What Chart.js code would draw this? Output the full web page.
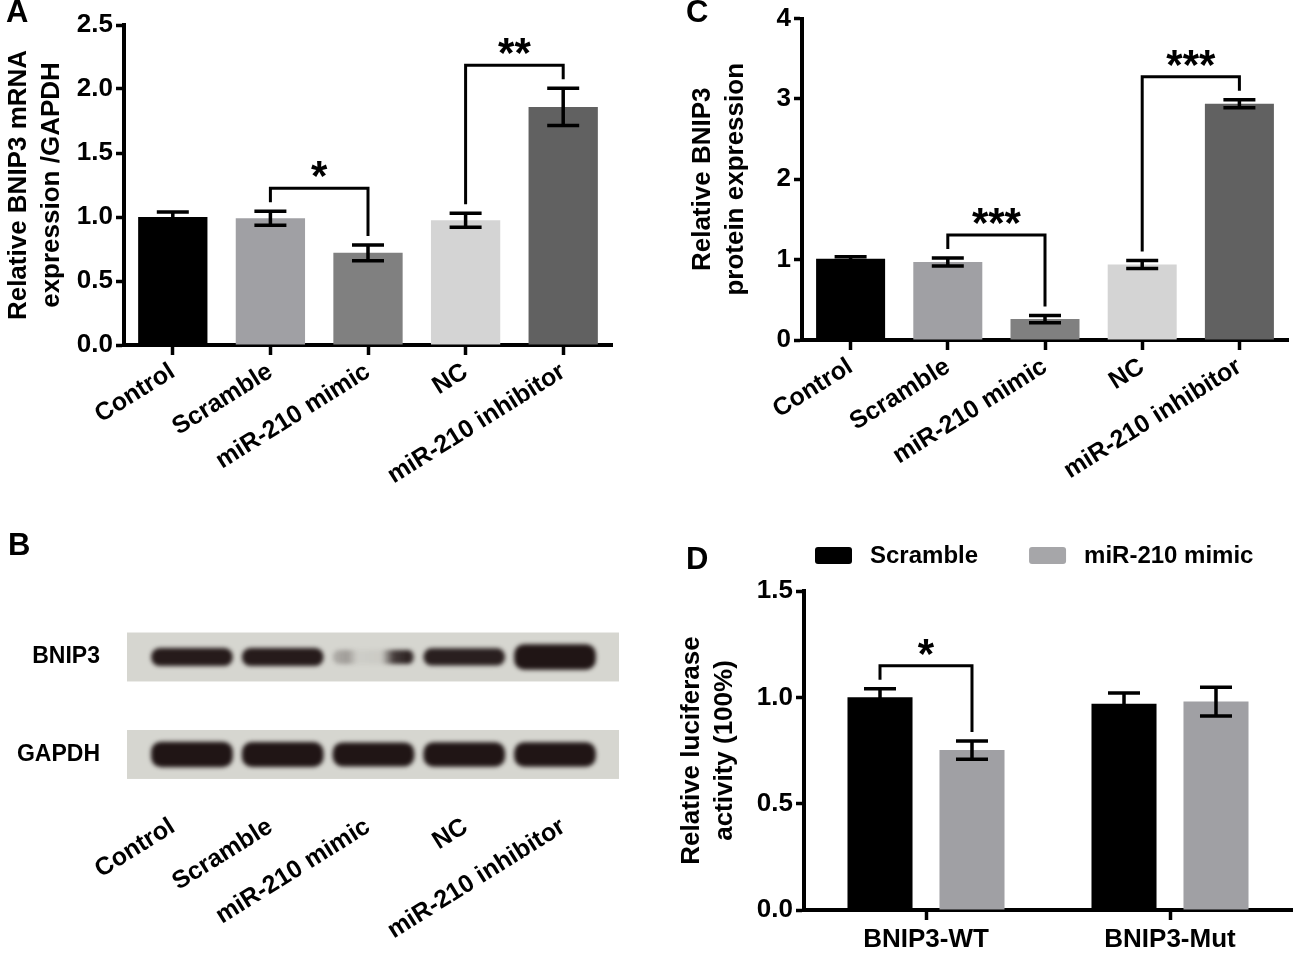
<!DOCTYPE html>
<html>
<head>
<meta charset="utf-8">
<script src="https://cdn.jsdelivr.net/npm/chart.js@4.4.1/dist/chart.umd.min.js"></script>
<style>
  html, body { margin: 0; padding: 0; background: #fff; }
  #fig { position: relative; width: 1300px; height: 957px; overflow: hidden; background: #fff;
         font-family: 'Liberation Sans', Arial, sans-serif; }
  #fig canvas { position: absolute; }
  .tag { position: absolute; font-weight: bold; font-size: 31px; line-height: 31px; color: #000; }
</style>
</head>
<body>
<div id="fig">
  <canvas id="chartA" width="650" height="500" style="left:0;top:0"></canvas>
  <canvas id="chartC" width="640" height="500" style="left:660px;top:0"></canvas>
  <canvas id="chartB" width="650" height="437" style="left:0;top:520px"></canvas>
  <canvas id="chartD" width="640" height="437" style="left:660px;top:520px"></canvas>
  <div class="tag" style="left:6px;top:-4px">A</div>
  <div class="tag" style="left:686px;top:-4px">C</div>
  <div class="tag" style="left:8px;top:529px">B</div>
  <div class="tag" style="left:686px;top:543px">D</div>
</div>
<script>
// groups shared by A, B, C
const groups = ['Control', 'Scramble', 'miR-210 mimic', 'NC', 'miR-210 inhibitor'];

// A: BNIP3 mRNA / GAPDH
const mrnaMean = [1.00, 0.99, 0.72, 0.975, 1.86];
const mrnaErr = [0.04, 0.055, 0.062, 0.055, 0.145];
const mrnaTicks = [0, 0.5, 1.0, 1.5, 2.0, 2.5];
const mrnaSig = [{ a: [0, 1], b: [0, 2], mark: '*' }, { a: [0, 3], b: [0, 4], mark: '**' }];

// C: BNIP3 protein
const proteinMean = [1.01, 0.97, 0.26, 0.94, 2.94];
const proteinErr = [0.025, 0.05, 0.045, 0.05, 0.05];
const proteinTicks = [0, 1, 2, 3, 4];
const proteinSig = [{ a: [0, 1], b: [0, 2], mark: '***' }, { a: [0, 3], b: [0, 4], mark: '***' }];

// B: western blot, band half-thickness (row units) and density per lane
const blotRows = ['GAPDH', 'BNIP3'];
const bnip3Band = [0.088, 0.088, 0.068, 0.085, 0.128];
const bnip3Density = [0.97, 0.97, 0.3, 0.95, 1.0];
const gapdhBand = [0.128, 0.125, 0.12, 0.122, 0.122];
const gapdhDensity = [1.0, 1.0, 1.0, 1.0, 1.0];

// D: luciferase
const lucGroups = ['BNIP3-WT', 'BNIP3-Mut'];
const lucScramble = [1.00, 0.97];
const lucScrambleErr = [0.04, 0.05];
const lucMimic = [0.752, 0.98];
const lucMimicErr = [0.043, 0.068];
const lucTicks = [0, 0.5, 1.0, 1.5];
const lucSig = [{ a: [0, 0], b: [1, 0], mark: '*' }];

const groupColors = ['#000000', '#a0a0a4', '#808080', '#d4d4d4', '#616161'];
const FONT = "'Liberation Sans', Arial, sans-serif";
const BAND = '32,21,21';

Chart.defaults.font.family = FONT;
Chart.defaults.font.size = 26;
Chart.defaults.font.weight = 'bold';
Chart.defaults.color = '#000';
Chart.defaults.animation = false;
Chart.defaults.plugins.legend.display = false;
Chart.defaults.plugins.tooltip.enabled = false;

const errorBars = {
  id: 'errorBars',
  afterDatasetsDraw(chart) {
    const { ctx } = chart;
    const y = chart.scales.y;
    chart.data.datasets.forEach((ds, d) => {
      if (!ds.errors) return;
      chart.getDatasetMeta(d).data.forEach((bar, i) => {
        const top = y.getPixelForValue(ds.data[i] + ds.errors[i]);
        const bot = y.getPixelForValue(ds.data[i] - ds.errors[i]);
        ctx.save();
        ctx.strokeStyle = '#000';
        ctx.lineWidth = 3.5;
        ctx.beginPath();
        ctx.moveTo(bar.x, top); ctx.lineTo(bar.x, bot);
        ctx.moveTo(bar.x - 16, top); ctx.lineTo(bar.x + 16, top);
        ctx.moveTo(bar.x - 16, bot); ctx.lineTo(bar.x + 16, bot);
        ctx.stroke();
        ctx.restore();
      });
    });
  }
};

const sigBrackets = {
  id: 'sigBrackets',
  afterDatasetsDraw(chart, args, opts) {
    const { ctx } = chart;
    const y = chart.scales.y;
    const tip = ([d, i]) => {
      const ds = chart.data.datasets[d];
      const el = chart.getDatasetMeta(d).data[i];
      return { x: el.x, y: y.getPixelForValue(ds.data[i] + ds.errors[i]) };
    };
    (opts.items || []).forEach(it => {
      const a = tip(it.a), b = tip(it.b);
      const ya = a.y - 9, yb = b.y - 9;
      const top = Math.min(ya, yb) - 14;
      ctx.save();
      ctx.strokeStyle = '#000';
      ctx.lineWidth = 3;
      ctx.beginPath();
      ctx.moveTo(a.x, ya); ctx.lineTo(a.x, top); ctx.lineTo(b.x, top); ctx.lineTo(b.x, yb);
      ctx.stroke();
      ctx.fillStyle = '#000';
      ctx.font = 'bold 42px ' + FONT;
      ctx.textAlign = 'center';
      ctx.textBaseline = 'alphabetic';
      ctx.fillText(it.mark, (a.x + b.x) / 2, top - 21 + 0.55 * 42);
      ctx.restore();
    });
  }
};

const boxLegend = {
  id: 'boxLegend',
  afterDraw(chart, args, opts) {
    if (!opts.show) return;
    const { ctx } = chart;
    let x = opts.x;
    ctx.save();
    ctx.font = 'bold 24px ' + FONT;
    ctx.textBaseline = 'middle';
    chart.data.datasets.forEach(ds => {
      ctx.fillStyle = ds.legendColor || ds.backgroundColor;
      ctx.beginPath();
      ctx.roundRect(x, opts.y - 8, 37, 17, 3);
      ctx.fill();
      x += 37 + 18;
      ctx.fillStyle = '#000';
      ctx.fillText(ds.label, x, opts.y + 1);
      x += ctx.measureText(ds.label).width + 51;
    });
    ctx.restore();
  }
};

const blotStrips = {
  id: 'blotStrips',
  beforeDatasetsDraw(chart, args, opts) {
    if (!opts.show) return;
    const { ctx } = chart;
    const lane = chart.scales.lane, y = chart.scales.y;
    const x0 = lane.getPixelForValue(opts.from), x1 = lane.getPixelForValue(opts.to);
    ctx.save();
    ctx.fillStyle = '#d6d6d0';
    blotRows.forEach((_, r) => {
      const t = y.getPixelForValue(r + opts.half), b = y.getPixelForValue(r - opts.half);
      ctx.fillRect(x0, t, x1 - x0, b - t);
    });
    ctx.restore();
    ctx.save();
    ctx.filter = 'blur(2px)';
  },
  afterDatasetsDraw(chart, args, opts) {
    if (opts.show) chart.ctx.restore();
  }
};

Chart.register(errorBars, sigBrackets, boxLegend, blotStrips);

function valueAxis(ticksArr, decimals, title, titlePad, width) {
  return {
    min: ticksArr[0],
    max: ticksArr[ticksArr.length - 1],
    afterBuildTicks: s => { s.ticks = ticksArr.map(v => ({ value: v })); },
    afterFit: s => { s.width = width; },
    ticks: { padding: 3, callback: v => Number(v).toFixed(decimals) },
    grid: { display: true, drawOnChartArea: false, drawTicks: true, tickLength: 8, tickWidth: 3.5, tickColor: '#000' },
    border: { display: true, color: '#000', width: 4 },
    title: { display: true, text: title, padding: { top: titlePad, bottom: 0 }, font: { size: 26, lineHeight: 1.27 } }
  };
}

function groupAxis(height, rotated, visibleLine) {
  return {
    afterFit: s => { s.height = height; },
    ticks: rotated
      ? { minRotation: 32, maxRotation: 32, padding: 2, labelOffset: 0, autoSkip: false, font: { size: 25 } }
      : { maxRotation: 0, padding: 4, autoSkip: false },
    grid: { display: true, offset: false, drawOnChartArea: false, drawTicks: true, tickLength: 10,
            tickWidth: 3.5, tickColor: visibleLine ? '#000' : 'rgba(0,0,0,0)' },
    border: { display: visibleLine, color: '#000', width: 4 }
  };
}

function barPanel(id, w, h, area, means, errs, ticksArr, decimals, title, titlePad, sig) {
  return new Chart(document.getElementById(id), {
    type: 'bar',
    data: {
      labels: groups,
      datasets: [{ data: means, errors: errs, backgroundColor: groupColors, borderWidth: 0,
                   categoryPercentage: 1.0, barPercentage: 0.71 }]
    },
    options: {
      responsive: false,
      devicePixelRatio: 1,
      layout: { autoPadding: false, padding: { left: 0, top: area.t, right: w - area.r, bottom: 0 } },
      scales: {
        x: groupAxis(h - area.b, true, true),
        y: valueAxis(ticksArr, decimals, title, titlePad, area.l)
      },
      plugins: { sigBrackets: { items: sig } }
    }
  });
}

barPanel('chartA', 650, 500, { l: 124, t: 25, r: 612, b: 345 }, mrnaMean, mrnaErr, mrnaTicks, 1,
  ['Relative BNIP3 mRNA', 'expression /GAPDH'], 2.5, mrnaSig);

barPanel('chartC', 640, 500, { l: 142, t: 17, r: 628, b: 340 }, proteinMean, proteinErr, proteinTicks, 0,
  ['Relative BNIP3', 'protein expression'], 26.5, proteinSig);

// B: blot bands as floating bars, lanes on a hidden linear axis
const blotBands = [];
groups.forEach((g, i) => {
  blotBands.push({ x: i, y: [1 - bnip3Band[i], 1 + bnip3Band[i]], row: 1, lane: i });
  blotBands.push({ x: i, y: [-gapdhBand[i], gapdhBand[i]], row: 0, lane: i });
});

function bandColor(c) {
  const p = c.raw;
  if (!p) return `rgb(${BAND})`;
  const dens = p.row === 1 ? bnip3Density[p.lane] : gapdhDensity[p.lane];
  if (dens >= 0.6) return `rgba(${BAND},${dens})`;
  const lane = c.chart.scales.lane;
  if (!lane || !c.chart.chartArea) return `rgba(${BAND},${dens})`;
  const x0 = lane.getPixelForValue(p.lane - 0.45), x1 = lane.getPixelForValue(p.lane + 0.45);
  const g = c.chart.ctx.createLinearGradient(x0, 0, x1, 0);
  g.addColorStop(0, `rgba(${BAND},0.2)`);
  g.addColorStop(0.18, `rgba(${BAND},0.3)`);
  g.addColorStop(0.3, `rgba(${BAND},0.04)`);
  g.addColorStop(0.6, `rgba(${BAND},0.06)`);
  g.addColorStop(0.75, `rgba(${BAND},0.8)`);
  g.addColorStop(0.95, `rgba(${BAND},0.95)`);
  g.addColorStop(1, `rgba(${BAND},0.5)`);
  return g;
}

new Chart(document.getElementById('chartB'), {
  type: 'bar',
  data: {
    labels: groups,
    datasets: [{ data: blotBands, xAxisID: 'lane', yAxisID: 'y', backgroundColor: bandColor,
                 borderWidth: 0, borderSkipped: false, borderRadius: 10, barThickness: 81 }]
  },
  options: {
    responsive: false,
    devicePixelRatio: 1,
    layout: { autoPadding: false, padding: { left: 0, top: 90, right: 38, bottom: 0 } },
    scales: {
      x: groupAxis(157, true, false),
      lane: { type: 'linear', position: 'bottom', display: false, offset: false, min: -0.749, max: 4.628,
              grid: { offset: false }, afterBuildTicks: s => { s.ticks = groups.map((g, i) => ({ value: i })); } },
      y: {
        min: -0.467, max: 1.482,
        afterBuildTicks: s => { s.ticks = blotRows.map((r, i) => ({ value: i })); },
        afterFit: s => { s.width = 124; },
        ticks: { padding: 24, font: { size: 23 }, callback: v => blotRows[v] },
        grid: { display: false, drawTicks: false },
        border: { display: false }
      }
    },
    plugins: { blotStrips: { show: true, from: -0.716, to: 4.705, half: 0.251 } }
  }
});

// D: luciferase grouped bars
new Chart(document.getElementById('chartD'), {
  type: 'bar',
  data: {
    labels: lucGroups,
    datasets: [
      { label: 'Scramble', data: lucScramble, errors: lucScrambleErr, backgroundColor: '#000000',
        borderWidth: 0, categoryPercentage: 0.754, barPercentage: 0.707 },
      { label: 'miR-210 mimic', data: lucMimic, errors: lucMimicErr, backgroundColor: '#a0a0a4',
        legendColor: '#a6a6a9', borderWidth: 0, categoryPercentage: 0.754, barPercentage: 0.707 }
    ]
  },
  options: {
    responsive: false,
    devicePixelRatio: 1,
    layout: { autoPadding: false, padding: { left: 0, top: 71, right: 8, bottom: 0 } },
    scales: {
      x: groupAxis(437 - 390, false, true),
      y: valueAxis(lucTicks, 1, ['Relative luciferase', 'activity (100%)'], 15.5, 144)
    },
    plugins: {
      sigBrackets: { items: lucSig },
      boxLegend: { show: true, x: 155, y: 35 }
    }
  }
});
</script>
</body>
</html>
